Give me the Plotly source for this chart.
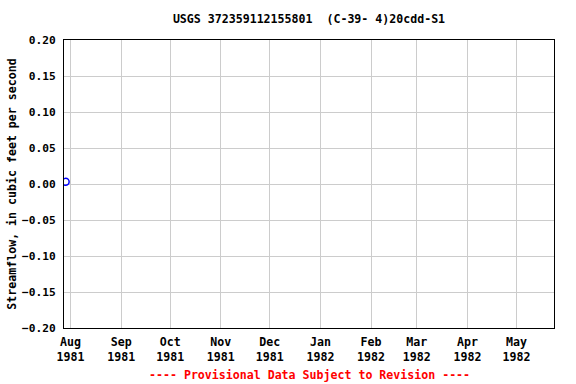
import plotly.graph_objects as go

dates = ["1981-07-29"]
flow = [0.003]
title = "USGS 372359112155801  (C-39- 4)20cdd-S1"
ylabel = "Streamflow, in cubic feet per second"
footer = "---- Provisional Data Subject to Revision ----"
yticks = [-0.20, -0.15, -0.10, -0.05, 0.00, 0.05, 0.10, 0.15, 0.20]

FONT = "DejaVu Sans Mono"

fig = go.Figure()
fig.add_trace(go.Scatter(
    x=dates, y=flow, mode="markers",
    marker=dict(symbol="circle-open", color="blue", size=7, line=dict(width=1.5)),
    showlegend=False,
))

fig.update_layout(
    width=576, height=384,
    margin=dict(l=64, r=22, t=40, b=56),
    paper_bgcolor="white", plot_bgcolor="white",
    font=dict(family=FONT, size=11, color="black", weight="bold"),
    title=dict(text=title, x=(64 + 554) / 2 / 576, xanchor="center", y=1 - 19 / 384, yanchor="middle",
               font=dict(family=FONT, size=11.6, weight="bold")),
    xaxis=dict(
        type="date", range=["1981-07-28", "1982-05-24"],
        tick0="1981-08-01", dtick="M1", tickformat="%b<br>%Y",
        showgrid=True, gridcolor="#cccccc", gridwidth=1,
        showline=True, linecolor="black", linewidth=1, mirror=True,
        ticks="", zeroline=False, ticklabelstandoff=3, automargin=False,
        tickfont=dict(family=FONT, size=11.6, weight="bold"),
    ),
    yaxis=dict(
        range=[-0.20, 0.20], tickvals=yticks, tickformat=".2f",
        showgrid=True, gridcolor="#cccccc", gridwidth=1,
        showline=True, linecolor="black", linewidth=1, mirror=True,
        ticks="", zeroline=False, ticklabelstandoff=5, automargin=False,
        title=dict(text=ylabel, font=dict(family=FONT, size=11.6, weight="bold"), standoff=3),
        tickfont=dict(family=FONT, size=11.2, weight="bold"),
    ),
    annotations=[dict(
        text=footer, xref="paper", yref="paper", x=0.5, y=-(375 - 328) / 288,
        xanchor="center", yanchor="middle", showarrow=False,
        font=dict(family=FONT, size=11.6, color="red", weight="bold"),
    )],
)

fig.write_html("out.html")
